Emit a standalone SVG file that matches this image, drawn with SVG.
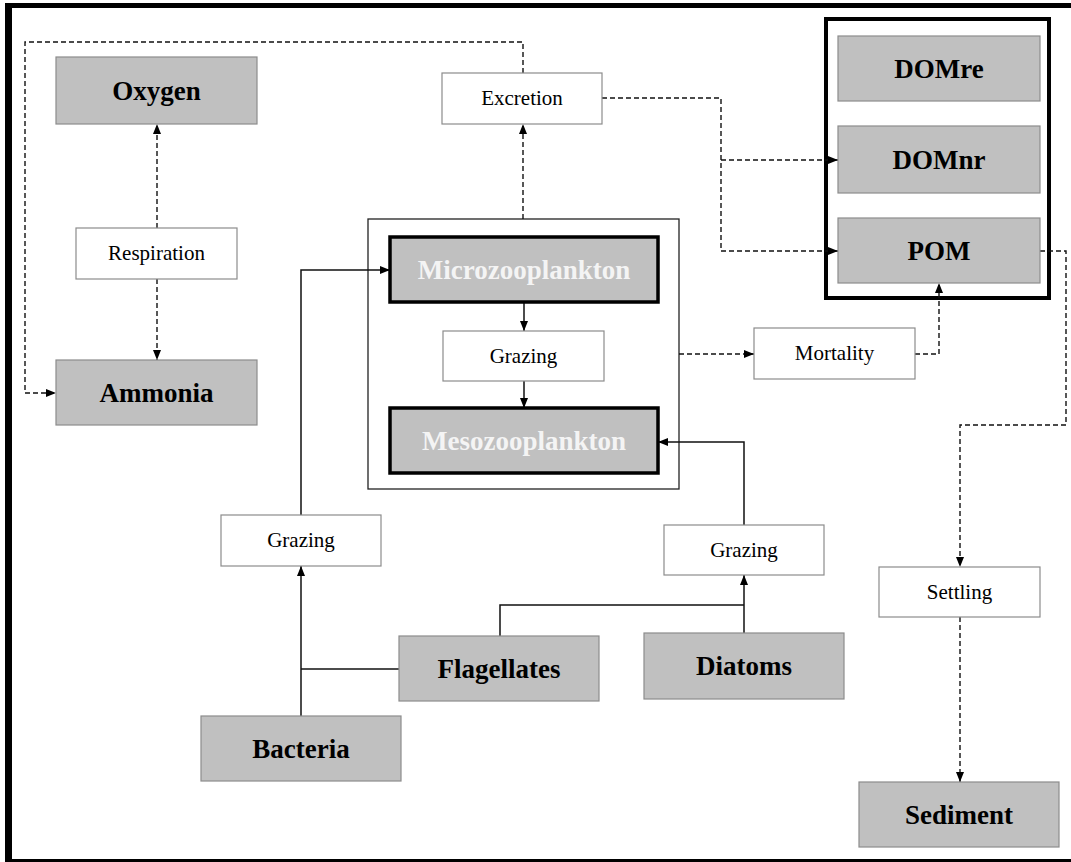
<svg xmlns="http://www.w3.org/2000/svg" width="1071" height="862" viewBox="0 0 1071 862">
  <style>
    .pool { fill: #c0c0c0; stroke: #8c8c8c; stroke-width: 1.2; }
    .zoo { fill: #c0c0c0; stroke: #000; stroke-width: 3.5; }
    .proc { fill: #fff; stroke: #8c8c8c; stroke-width: 1.2; }
    .pt { font-family: "Liberation Serif", "Times New Roman", serif; font-weight: bold; font-size: 27px; fill: #000; text-anchor: middle; }
    .zt { font-family: "Liberation Serif", "Times New Roman", serif; font-weight: bold; font-size: 27px; fill: #f4f4f4; text-anchor: middle; }
    .lt { font-family: "Liberation Serif", "Times New Roman", serif; font-size: 21px; fill: #000; text-anchor: middle; }
    .solid { fill: none; stroke: #111; stroke-width: 1.5; }
    .dash { fill: none; stroke: #111; stroke-width: 1.4; stroke-dasharray: 5 3; }
  </style>
  <defs>
    <marker id="arr" markerUnits="userSpaceOnUse" markerWidth="10" markerHeight="10" viewBox="0 0 10 10" refX="10" refY="5" orient="auto">
      <path d="M0,1 L10,5 L0,9 Z" fill="#000"/>
    </marker>
  </defs>

  <rect width="1071" height="862" fill="#fff"/>

  <!-- page frame -->
  <g id="frame" fill="#000">
    <rect x="5" y="3" width="1066" height="5"/>
    <rect x="5" y="3" width="7" height="859"/>
    <rect x="5" y="859" width="1066" height="3"/>
  </g>

  <!-- containers -->
  <g id="zooplankton-group">
    <rect x="368" y="219" width="311" height="270" fill="none" stroke="#222" stroke-width="1.3"/>
  </g>
  <g id="organic-matter-group">
    <rect x="826" y="19" width="223" height="279" fill="none" stroke="#000" stroke-width="4"/>
  </g>

  <!-- connectors -->
  <g id="connectors">
    <path class="dash" d="M157,228 V124" marker-end="url(#arr)"/>
    <path class="dash" d="M157,279 V360" marker-end="url(#arr)"/>
    <path class="dash" d="M523,73 V42 H25 V393 H56" marker-end="url(#arr)"/>
    <path class="dash" d="M523,219 V124" marker-end="url(#arr)"/>
    <path class="dash" d="M602,98 H721 V251 H838" marker-end="url(#arr)"/>
    <path class="dash" d="M721,160 H838" marker-end="url(#arr)"/>
    <path class="dash" d="M679,354 H754" marker-end="url(#arr)"/>
    <path class="dash" d="M915,354 H939 V283" marker-end="url(#arr)"/>
    <path class="dash" d="M1040,251 H1066 V425 H960 V567" marker-end="url(#arr)"/>
    <path class="dash" d="M960,617 V782" marker-end="url(#arr)"/>
    <path class="solid" d="M524,303 V331" marker-end="url(#arr)"/>
    <path class="solid" d="M524,381 V408" marker-end="url(#arr)"/>
    <path class="solid" d="M301,515 V270 H390" marker-end="url(#arr)"/>
    <path class="solid" d="M301,716 V566" marker-end="url(#arr)"/>
    <path class="solid" d="M399,669 H301"/>
    <path class="solid" d="M500,636 V605 H744"/>
    <path class="solid" d="M744,633 V575" marker-end="url(#arr)"/>
    <path class="solid" d="M744,525 V442 H658" marker-end="url(#arr)"/>
  </g>

  <!-- pools -->
  <g id="oxygen"><rect class="pool" x="56" y="57" width="201" height="67"/><text class="pt" x="156.5" y="100">Oxygen</text></g>
  <g id="ammonia"><rect class="pool" x="56" y="360" width="201" height="65"/><text class="pt" x="156.5" y="402">Ammonia</text></g>
  <g id="domre"><rect class="pool" x="838" y="36" width="202" height="65"/><text class="pt" x="939" y="78">DOMre</text></g>
  <g id="domnr"><rect class="pool" x="838" y="126" width="202" height="67"/><text class="pt" x="939" y="169">DOMnr</text></g>
  <g id="pom"><rect class="pool" x="838" y="218" width="202" height="65"/><text class="pt" x="939" y="260">POM</text></g>
  <g id="diatoms"><rect class="pool" x="644" y="633" width="200" height="66"/><text class="pt" x="744" y="675">Diatoms</text></g>
  <g id="flagellates"><rect class="pool" x="399" y="636" width="200" height="65"/><text class="pt" x="499" y="678">Flagellates</text></g>
  <g id="bacteria"><rect class="pool" x="201" y="716" width="200" height="65"/><text class="pt" x="301" y="758">Bacteria</text></g>
  <g id="sediment"><rect class="pool" x="859" y="782" width="200" height="65"/><text class="pt" x="959" y="824">Sediment</text></g>

  <!-- zooplankton -->
  <g id="microzooplankton"><rect class="zoo" x="390" y="237" width="268" height="65"/><text class="zt" x="524" y="279">Microzooplankton</text></g>
  <g id="mesozooplankton"><rect class="zoo" x="390" y="408" width="268" height="65"/><text class="zt" x="524" y="450">Mesozooplankton</text></g>

  <!-- processes -->
  <g id="respiration"><rect class="proc" x="76" y="228" width="161" height="51"/><text class="lt" x="156.5" y="260">Respiration</text></g>
  <g id="excretion"><rect class="proc" x="442" y="73" width="160" height="51"/><text class="lt" x="522" y="105">Excretion</text></g>
  <g id="grazing-zoo"><rect class="proc" x="443" y="331" width="161" height="50"/><text class="lt" x="523.5" y="363">Grazing</text></g>
  <g id="mortality"><rect class="proc" x="754" y="328" width="161" height="51"/><text class="lt" x="834.5" y="360">Mortality</text></g>
  <g id="grazing-micro"><rect class="proc" x="221" y="515" width="160" height="51"/><text class="lt" x="301" y="547">Grazing</text></g>
  <g id="grazing-meso"><rect class="proc" x="664" y="525" width="160" height="50"/><text class="lt" x="744" y="557">Grazing</text></g>
  <g id="settling"><rect class="proc" x="879" y="567" width="161" height="50"/><text class="lt" x="959.5" y="599">Settling</text></g>
</svg>
